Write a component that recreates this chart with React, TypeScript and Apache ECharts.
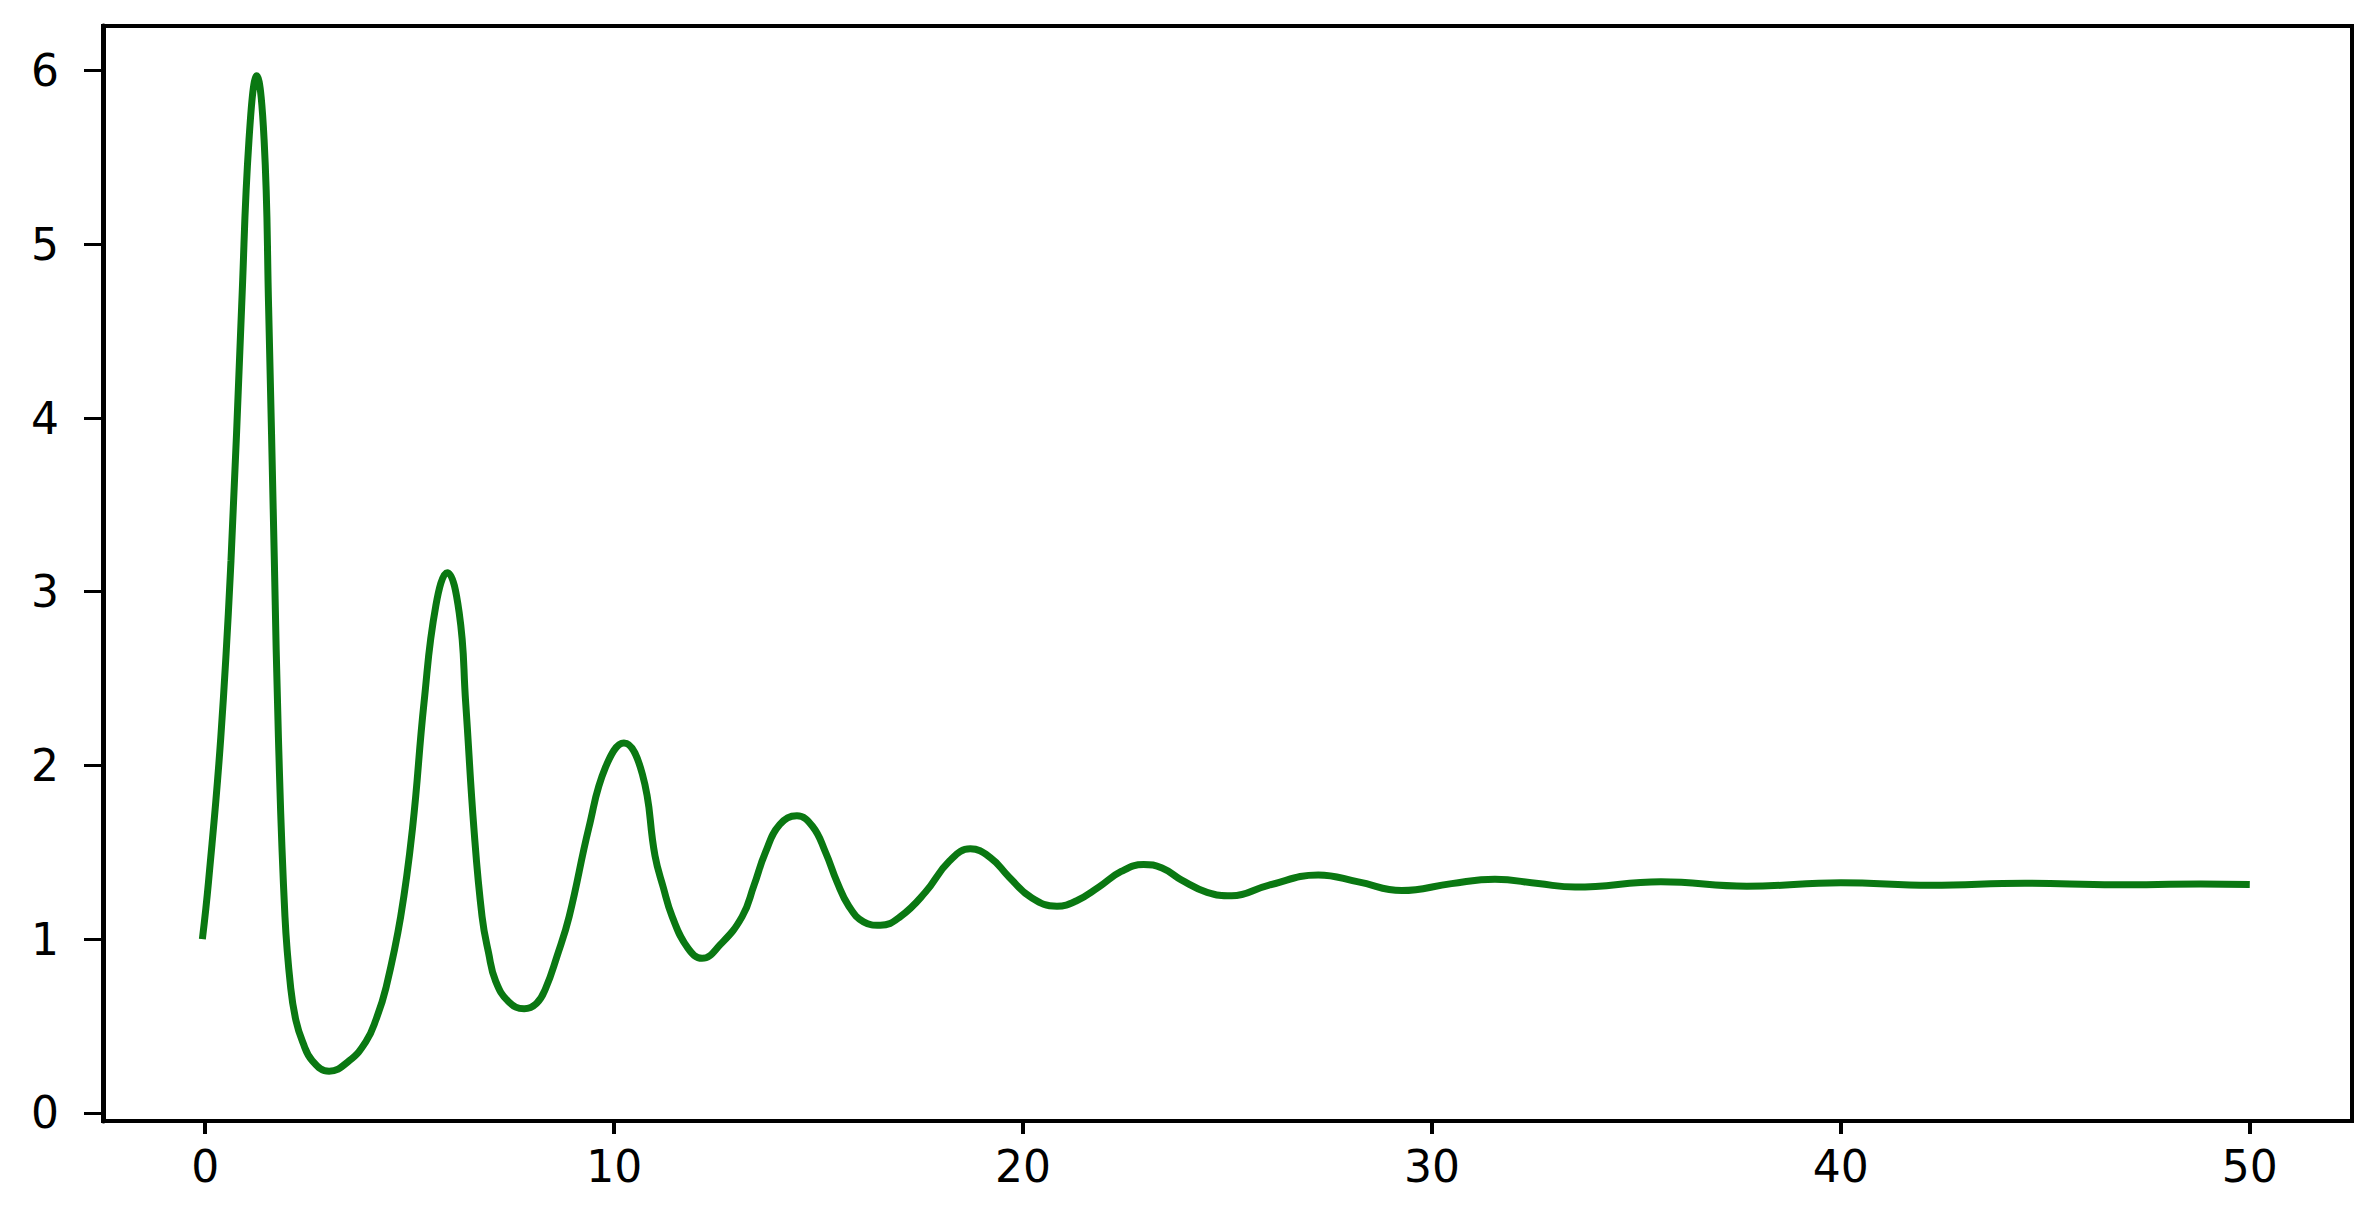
import React, { useEffect, useRef } from "react";
import * as echarts from "echarts";

const xValues = [
  -0.07, 0.08, 0.38, 0.63, 0.89, 1.07, 1.26, 1.44, 1.55, 1.69, 1.79, 1.95, 2.09, 2.22,
  2.38, 2.62, 3.03, 3.52, 3.93, 4.18, 4.42, 4.78, 5.07, 5.35, 5.64, 5.92, 6.21, 6.37,
  6.57, 6.77, 6.93, 7.1, 7.42, 7.8, 8.1, 8.33, 8.6, 8.9, 9.38, 9.79, 10.24, 10.69,
  11.0, 11.2, 11.42, 11.8, 12.15, 12.6, 13.13, 13.42, 13.7, 14.05, 14.47, 14.85,
  15.17, 15.45, 15.74, 16.1, 16.51, 17.0, 17.61, 18.2, 18.71, 19.2, 19.65, 20.2,
  20.83, 21.3, 21.85, 22.4, 22.95, 23.4, 23.88, 24.5, 25.1, 26.0, 27.22, 28.2, 29.26,
  30.48, 31.54, 32.6, 33.5, 35.6, 37.7, 40.0, 42.2, 44.5, 46.7, 48.8, 50.0,
];
// y values of the curve at those x positions
const yValues = [
  1.0, 1.33, 2.16, 3.18, 4.64, 5.6, 5.97, 5.6, 4.64, 3.18, 2.16, 1.13, 0.72, 0.53,
  0.41, 0.3, 0.24, 0.3, 0.41, 0.54, 0.72, 1.13, 1.64, 2.36, 2.92, 3.11, 2.88, 2.36,
  1.64, 1.13, 0.92, 0.76, 0.64, 0.6, 0.63, 0.72, 0.9, 1.13, 1.64, 1.99, 2.13, 1.95,
  1.48, 1.3, 1.13, 0.95, 0.89, 0.97, 1.13, 1.31, 1.5, 1.66, 1.71, 1.65,
  1.5, 1.33, 1.19, 1.1, 1.08, 1.13, 1.27, 1.45, 1.52, 1.47, 1.36, 1.24,
  1.19, 1.22, 1.3, 1.39, 1.43, 1.41, 1.34, 1.27, 1.25, 1.31, 1.37, 1.33, 1.28,
  1.32, 1.345, 1.32, 1.3, 1.33, 1.305, 1.325, 1.31, 1.322, 1.313, 1.318, 1.315,
];

const xTicks = [0, 10, 20, 30, 40, 50];
const yTicks = [0, 1, 2, 3, 4, 5, 6];

export default function App() {
  const ref = useRef<HTMLDivElement>(null);

  useEffect(() => {
    if (!ref.current) return;
    const chart = echarts.init(ref.current, undefined, { renderer: "svg" });
    const data = xValues.map((x, i) => [x, yValues[i]]);
    const labelStyle = {
      color: "#000",
      fontFamily: "DejaVu Sans",
      fontSize: 44,
    };
    chart.setOption({
      animation: false,
      backgroundColor: "#fff",
      grid: {
        left: 103,
        right: 23,
        top: 26,
        bottom: 90,
        show: true,
        borderColor: "#000",
        borderWidth: 4,
        backgroundColor: "transparent",
      },
      xAxis: {
        type: "value",
        min: -2.5,
        max: 52.5,
        splitLine: { show: false },
        axisLine: { show: true, onZero: false, lineStyle: { color: "#000", width: 4 } },
        axisTick: {
          show: true,
          length: 13,
          inside: false,
          customValues: xTicks,
          lineStyle: { color: "#000", width: 4 },
        },
        axisLabel: {
          ...labelStyle,
          margin: 23,
          customValues: xTicks,
          formatter: (v: number) => String(v),
        },
      },
      yAxis: {
        type: "value",
        min: -0.0465,
        max: 6.2565,
        splitLine: { show: false },
        axisLine: { show: true, onZero: false, lineStyle: { color: "#000", width: 5 } },
        axisTick: {
          show: true,
          length: 19,
          inside: false,
          customValues: yTicks,
          lineStyle: { color: "#000", width: 3 },
        },
        axisLabel: {
          ...labelStyle,
          margin: 44,
          customValues: yTicks,
          formatter: (v: number) => String(v),
        },
      },
      series: [
        {
          type: "line",
          data,
          smooth: 0.45,
          showSymbol: false,
          symbol: "none",
          lineStyle: { color: "#0a7812", width: 7 },
        },
      ],
    });
    return () => chart.dispose();
  }, []);

  return (
    <div
      ref={ref}
      style={{ position: "fixed", left: 0, top: 0, width: 2375, height: 1211, background: "#fff" }}
    />
  );
}
